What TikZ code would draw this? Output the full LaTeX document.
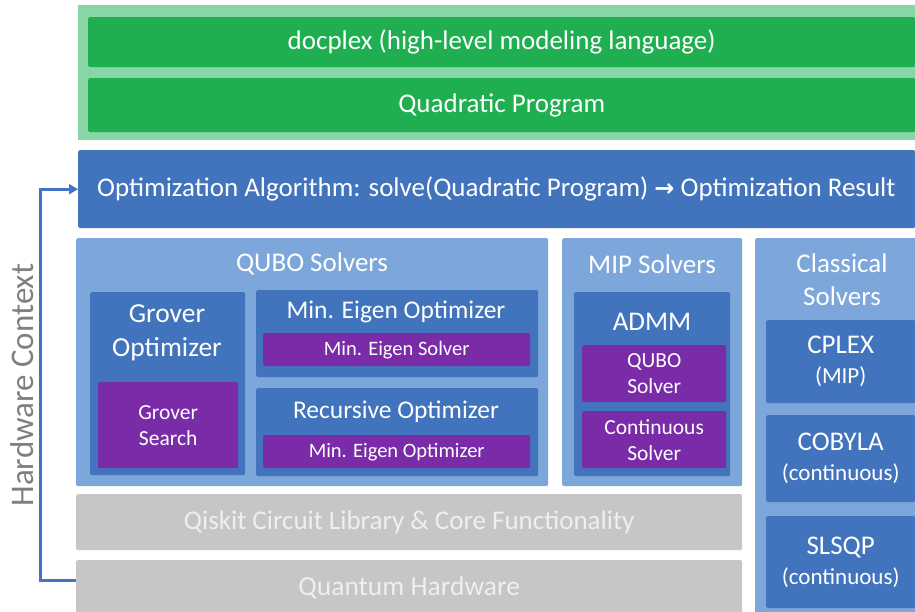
\documentclass[tikz,border=0pt]{standalone}
\usepackage{fontspec}
\setmainfont{Carlito}
\usetikzlibrary{arrows.meta}
\definecolor{lgreen}{HTML}{88D6A6}
\definecolor{dgreen}{HTML}{1FAE50}
\definecolor{dblue}{HTML}{4174BC}
\definecolor{lblue}{HTML}{7DA7DA}
\definecolor{ppl}{HTML}{7A2BA8}
\definecolor{gry}{HTML}{C6C6C6}
\definecolor{gtxt}{HTML}{EFEFEF}
\definecolor{arr}{HTML}{4472C4}
\definecolor{hctxt}{HTML}{7F7F7F}
\tikzset{
  base/.style={rectangle, rounded corners=1.5pt, anchor=north west, inner sep=0pt, text=white, align=center},
  outergreen/.style={base, fill=lgreen, rounded corners=0pt},
  greenbox/.style={base, fill=dgreen, font=\fontsize{27}{30}\selectfont},
  bluebox/.style={base, fill=dblue},
  lightbox/.style={base, fill=lblue},
  purplebox/.style={base, fill=ppl, font=\fontsize{21.5}{26}\selectfont},
  graybox/.style={base, fill=gry, text=gtxt},
  title/.style={text=white, align=center, inner sep=0pt, font=\fontsize{27}{33}\selectfont},
  link/.style={draw=arr, line width=3pt, -{Triangle[length=9pt,width=10pt]}}
}
\begin{document}
\begin{tikzpicture}[x=1pt,y=-1pt]
\useasboundingbox (0,0) rectangle (915,612);
% top green
\node[outergreen, minimum width=837, minimum height=135] (top) at (78,5) {};
\node[greenbox, minimum width=827, minimum height=50] (docplex) at (88,17) {docplex (high-level modeling language)};
\node[greenbox, minimum width=827, minimum height=54] (qp) at (88,78) {Quadratic Program};
% optimization algorithm
\node[bluebox, minimum width=837, minimum height=78] (opt) at (78,150) {};
\node[anchor=west, inner sep=0pt, text=white, font=\fontsize{27}{30}\selectfont] (opttxt) at (97,189) {Optimization Algorithm: solve(Quadratic Program) {\fontspec{DejaVu Sans}\bfseries\fontsize{24}{26}\selectfont\symbol{"2192}} Optimization Result};
% QUBO solvers
\node[lightbox, minimum width=472, minimum height=248] (qubo) at (76,238) {};
\node[title] (qubot) at (312,264) {QUBO Solvers};
\node[bluebox, minimum width=155, minimum height=183] (grover) at (90,292) {};
\node[title, font=\fontsize{27.5}{34}\selectfont] (grovert) at (167,333) {Grover\\Optimizer};
\node[purplebox, minimum width=140, minimum height=86] (gsearch) at (98,382) {Grover\\Search};
\node[bluebox, minimum width=282, minimum height=87] (mineig) at (256,290) {};
\node[title, font=\fontsize{25.5}{30}\selectfont] (mineigt) at (396,312) {Min. Eigen Optimizer};
\node[purplebox, minimum width=267, minimum height=33, font=\fontsize{20.5}{24}\selectfont] (mineigs) at (263,333) {Min. Eigen Solver};
\node[bluebox, minimum width=282, minimum height=88] (rec) at (256,388) {};
\node[title, font=\fontsize{25.5}{30}\selectfont] (rect) at (396,412) {Recursive Optimizer};
\node[purplebox, minimum width=267, minimum height=33, font=\fontsize{20.5}{24}\selectfont] (recs) at (263,435) {Min. Eigen Optimizer};
% MIP solvers
\node[lightbox, minimum width=180, minimum height=248] (mip) at (562,238) {};
\node[title] (mipt) at (652,264) {MIP Solvers};
\node[bluebox, minimum width=156, minimum height=184] (admm) at (574,292) {};
\node[title] (admmt) at (652,322) {ADMM};
\node[purplebox, minimum width=144, minimum height=57] (qs) at (582,345) {QUBO\\Solver};
\node[purplebox, minimum width=144, minimum height=57] (cs) at (582,411) {Continuous\\Solver};
% classical solvers
\node[lightbox, minimum width=165, minimum height=380] (cls) at (755,238) {};
\node[title] (clst) at (842,280) {Classical\\Solvers};
\node[bluebox, minimum width=149, minimum height=83, font=\fontsize{27}{30}\selectfont] (cplex) at (766,320) {CPLEX\\{\fontsize{23}{30}\selectfont(MIP)}};
\node[bluebox, minimum width=149, minimum height=87, font=\fontsize{27}{30}\selectfont] (cobyla) at (766,415) {COBYLA\\{\fontsize{23}{30}\selectfont(continuous)}};
\node[bluebox, minimum width=149, minimum height=92, font=\fontsize{27}{30}\selectfont] (slsqp) at (766,516) {SLSQP\\{\fontsize{23}{30}\selectfont(continuous)}};
% gray layers
\node[graybox, minimum width=666, minimum height=56, font=\fontsize{27}{30}\selectfont] (qiskit) at (76,494) {Qiskit Circuit Library \& Core Functionality};
\node[graybox, minimum width=666, minimum height=56, font=\fontsize{27.5}{30}\selectfont] (qh) at (76,560) {Quantum Hardware};
% hardware context
\node[rotate=90, inner sep=0pt, text=hctxt, font=\fontsize{33}{36}\selectfont] (hc) at (22,385) {Hardware Context};
\draw[link] ([yshift=8pt]qh.west) -- ++(-36,0) |- (opt.west);
\end{tikzpicture}
\end{document}
